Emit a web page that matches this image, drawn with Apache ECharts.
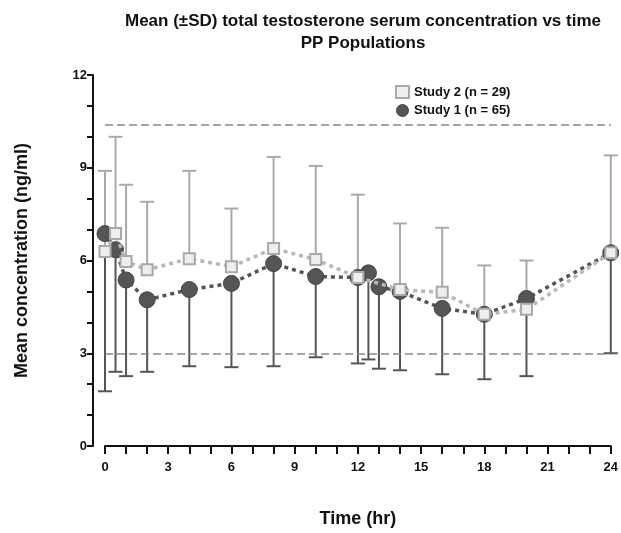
<!DOCTYPE html>
<html>
<head>
<meta charset="utf-8">
<script src="https://cdn.jsdelivr.net/npm/echarts@6/dist/echarts.min.js"></script>
<style>html,body{margin:0;padding:0;background:#fff}#c{width:621px;height:533px}</style>
</head>
<body>
<div id="c"></div>
<script>
const titleLines = ['Mean (±SD) total testosterone serum concentration vs time', 'PP Populations'];
const seriesNames = ['Study 2 (n = 29)', 'Study 1 (n = 65)'];
const xTickLabels = [0, 3, 6, 9, 12, 15, 18, 21, 24];
const yTickLabels = [0, 3, 6, 9, 12];
const refLines = [3.0, 10.4];

const hours2 = [0, 0.5, 1, 2, 4, 6, 8, 10, 12, 14, 16, 18, 20, 24];
const mean2  = [6.29, 6.87, 5.97, 5.70, 6.06, 5.80, 6.39, 6.03, 5.45, 5.06, 4.97, 4.26, 4.42, 6.25];
const sd2    = [2.61, 3.13, 2.48, 2.20, 2.84, 1.88, 2.96, 3.03, 2.68, 2.14, 2.09, 1.58, 1.58, 3.15];

const hours1 = [0, 0.5, 1, 2, 4, 6, 8, 10, 12, 12.5, 13, 14, 16, 18, 20, 24];
const mean1  = [6.87, 6.35, 5.37, 4.73, 5.06, 5.26, 5.90, 5.48, 5.45, 5.60, 5.15, 5.00, 4.45, 4.26, 4.77, 6.25];
const sd1    = [5.10, 3.95, 3.11, 2.33, 2.48, 2.71, 3.32, 2.61, 2.78, 2.80, 2.65, 2.55, 2.13, 2.10, 2.51, 3.25];

const light = '#a9a9a9';
const dark = '#555555';
const fontFam = 'Liberation Sans, Arial, sans-serif';

const pts2 = hours2.map((h, i) => [h, mean2[i]]);
const pts1 = hours1.map((h, i) => [h, mean1[i]]);
const bars2 = hours2.map((h, i) => [h, mean2[i], mean2[i] + sd2[i]]);
const bars1 = hours1.map((h, i) => [h, mean1[i] - sd1[i], mean1[i]]);

function errRender(color, capAtTop) {
  return function (params, api) {
    const x = api.value(0);
    const p1 = api.coord([x, api.value(1)]);
    const p2 = api.coord([x, api.value(2)]);
    const capY = capAtTop ? p2[1] : p1[1];
    const hw = 7;
    return {
      type: 'group',
      children: [
        { type: 'line', shape: { x1: p1[0], y1: p1[1], x2: p2[0], y2: p2[1] }, style: { stroke: color, lineWidth: 2 } },
        { type: 'line', shape: { x1: p1[0] - hw, y1: capY, x2: p1[0] + hw, y2: capY }, style: { stroke: color, lineWidth: 2 } }
      ]
    };
  };
}

const chart = echarts.init(document.getElementById('c'), null, { renderer: 'canvas' });
chart.setOption({
  animation: false,
  backgroundColor: '#fff',
  title: {
    text: titleLines.join('\n'),
    left: 358, top: 5, textAlign: 'center',
    textStyle: { fontSize: 17, fontWeight: 'bold', color: '#111', fontFamily: fontFam, lineHeight: 22 }
  },
  legend: {
    orient: 'vertical', left: 390, top: 80, itemGap: 5, itemWidth: 13, itemHeight: 12,
    data: [
      { name: seriesNames[0], icon: 'rect', itemStyle: { color: '#eeeeee', borderColor: light, borderWidth: 2 } },
      { name: seriesNames[1], icon: 'circle', itemStyle: { color: dark, borderColor: '#444', borderWidth: 1 } }
    ],
    textStyle: { fontSize: 13, fontWeight: 'bold', color: '#111', fontFamily: fontFam }
  },
  grid: { left: 105, right: 10, top: 75, bottom: 85, containLabel: false },
  xAxis: {
    type: 'value', min: 0, max: 24, interval: 1,
    name: 'Time (hr)', nameLocation: 'middle', nameGap: 64,
    nameTextStyle: { fontSize: 18, fontWeight: 'bold', color: '#111', fontFamily: fontFam },
    axisLine: { onZero: false, lineStyle: { color: '#111', width: 2 } },
    axisTick: { length: 8, lineStyle: { color: '#111', width: 2 } },
    axisLabel: { margin: 15, fontSize: 13, fontWeight: 'bold', color: '#111', fontFamily: fontFam,
      formatter: v => xTickLabels.includes(v) ? String(v) : '' },
    splitLine: { show: false }
  },
  yAxis: {
    type: 'value', min: 0, max: 12, interval: 1, offset: 12,
    name: 'Mean concentration (ng/ml)', nameLocation: 'middle', nameGap: 62,
    nameTextStyle: { fontSize: 18, fontWeight: 'bold', color: '#111', fontFamily: fontFam },
    axisLine: { show: true, onZero: false, lineStyle: { color: '#111', width: 2 } },
    axisTick: { show: true, length: 6, lineStyle: { color: '#111', width: 2 } },
    axisLabel: { margin: 6, fontSize: 13, fontWeight: 'bold', color: '#111', fontFamily: fontFam,
      formatter: v => yTickLabels.includes(v) ? String(v) : '' },
    splitLine: { show: false }
  },
  series: [
    {
      type: 'custom', name: 'err1', data: bars1, renderItem: errRender(dark, false), z: 2,
      encode: { x: 0, y: [1, 2] }, silent: true
    },
    {
      type: 'custom', name: 'err2', data: bars2, renderItem: errRender(light, true), z: 2,
      encode: { x: 0, y: [1, 2] }, silent: true
    },
    {
      type: 'line', name: seriesNames[1], data: pts1, z: 3,
      symbol: 'circle', symbolSize: 16,
      itemStyle: { color: dark, borderColor: '#444', borderWidth: 1 },
      lineStyle: { color: dark, width: 3.5, type: [4, 4] },
      markLine: {
        silent: true, symbol: 'none', label: { show: false },
        lineStyle: { color: '#888', type: [8, 4], width: 1.5 },
        data: refLines.map(v => ({ yAxis: v }))
      }
    },
    {
      type: 'line', name: seriesNames[0], data: pts2, z: 4,
      symbol: 'rect', symbolSize: 11,
      itemStyle: { color: '#eeeeee', borderColor: light, borderWidth: 2 },
      lineStyle: { color: '#b8b8b8', width: 3.5, type: [4, 4] }
    }
  ]
});
</script>
</body>
</html>
